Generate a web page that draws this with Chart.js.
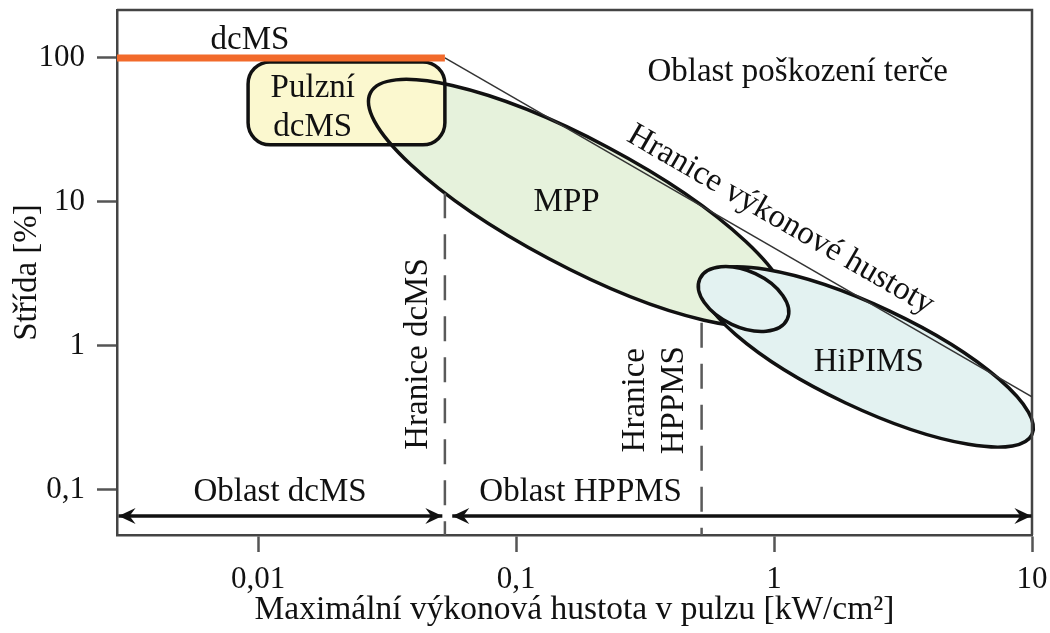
<!DOCTYPE html>
<html>
<head>
<meta charset="utf-8">
<script src="https://cdn.jsdelivr.net/npm/chart.js@4.4.0/dist/chart.umd.min.js"></script>
<style>
  body { margin: 0; background: #fff; }
</style>
</head>
<body>
<canvas id="myChart" width="1050" height="633"></canvas>
<script>
// osy
const xRange = [0.00284, 10];
const yRange = [0.0487, 215];
const xTicks = [0.01, 0.1, 1, 10];
const xTickLabels = ['0,01', '0,1', '1', '10'];
const yTicks = [0.1, 1, 10, 100];
const yTickLabels = ['0,1', '1', '10', '100'];

// hranice a oblasti
const dcmsLine = [[0.00284, 100], [0.053, 100]];
const powerLimit = [[0.053, 100], [10, 0.443]];
const dcmsDash = [[0.053, 11.5], [0.053, 0.0487]];
const hppmsDash = [[0.524, 1.45], [0.524, 0.0487]];
const dcmsArrow = [[0.00288, 0.066], [0.0518, 0.066]];
const hppmsArrow = [[0.0566, 0.066], [9.95, 0.066]];

// plochy: konce hlavní osy elipsy, resp. rohy obdélníku
const mppArea = [[0.0273, 57.4], [1.11, 1.69]];
const hipimsArea = [[0.530, 2.90], [10.0, 0.243]];
const hipimsLoop = [[0.516, 2.93], [1.125, 1.53]];
const pulseBox = [[0.00915, 93.8], [0.053, 24.9]];

// popisky
const notes = [
  { text: ['dcMS'], at: [0.0093, 133] },
  { text: ['Oblast poškození terče'], at: [1.235, 78.8] },
  { text: ['Hranice výkonové hustoty'], at: [1.06, 7.5], along: powerLimit },
  { text: ['MPP'], at: [0.157, 10] },
  { text: ['HiPIMS'], at: [2.33, 0.774] },
  { text: ['Pulzní', 'dcMS'], at: [0.0163, 45.3] },
  { text: ['Hranice dcMS'], at: [0.0418, 0.88], vertical: true },
  { text: ['Hranice', 'HPPMS'], at: [0.344, 0.42], vertical: true },
  { text: ['Oblast dcMS'], at: [0.01217, 0.0968] },
  { text: ['Oblast HPPMS'], at: [0.178, 0.0968] }
];

const serif = "'Liberation Serif', 'Times New Roman', serif";
const ink = '#111';
const pts = arr => arr.map(([x, y]) => ({ x, y }));

function ellipsePath(ctx, sx, sy, ends, ratio) {
  const x1 = sx.getPixelForValue(ends[0][0]), y1 = sy.getPixelForValue(ends[0][1]);
  const x2 = sx.getPixelForValue(ends[1][0]), y2 = sy.getPixelForValue(ends[1][1]);
  const a = Math.hypot(x2 - x1, y2 - y1) / 2;
  ctx.beginPath();
  ctx.ellipse((x1 + x2) / 2, (y1 + y2) / 2, a, a * ratio, Math.atan2(y2 - y1, x2 - x1), 0, Math.PI * 2);
}

function boxPath(ctx, sx, sy, corners, r) {
  const x1 = sx.getPixelForValue(corners[0][0]), y1 = sy.getPixelForValue(corners[0][1]);
  const x2 = sx.getPixelForValue(corners[1][0]), y2 = sy.getPixelForValue(corners[1][1]);
  ctx.beginPath();
  ctx.roundRect(x1, y1, x2 - x1, y2 - y1, r);
}

function arrowHead(ctx, x, y, dir) {
  ctx.save();
  ctx.translate(x, y);
  ctx.scale(dir, 1);
  ctx.beginPath();
  ctx.moveTo(0, 0);
  ctx.lineTo(-17, -8);
  ctx.lineTo(-11, 0);
  ctx.lineTo(-17, 8);
  ctx.closePath();
  ctx.fill();
  ctx.restore();
}

const areas = {
  id: 'areas',
  beforeDatasetsDraw(chart) {
    const { ctx, chartArea: ca, scales: { x, y } } = chart;
    ctx.save();
    ctx.lineWidth = 3.5;
    ctx.strokeStyle = ink;

    ellipsePath(ctx, x, y, mppArea, 0.268);
    ctx.fillStyle = '#e6f2dc';
    ctx.fill();
    boxPath(ctx, x, y, pulseBox, 22);
    ctx.fillStyle = '#fbf8cf';
    ctx.fill();
    ellipsePath(ctx, x, y, mppArea, 0.268);
    ctx.stroke();
    boxPath(ctx, x, y, pulseBox, 22);
    ctx.stroke();

    ellipsePath(ctx, x, y, hipimsArea, 0.28);
    ctx.fillStyle = '#e3f2f1';
    ctx.fill();
    ctx.stroke();
    ellipsePath(ctx, x, y, hipimsLoop, 0.58);
    ctx.fill();
    ctx.stroke();

    // horní a pravý okraj rámu
    ctx.lineWidth = 2.5;
    ctx.strokeStyle = '#444';
    ctx.beginPath();
    ctx.moveTo(ca.left, ca.top);
    ctx.lineTo(ca.right, ca.top);
    ctx.lineTo(ca.right, ca.bottom);
    ctx.stroke();
    ctx.restore();
  },
  afterDatasetsDraw(chart) {
    const { ctx, scales: { x, y } } = chart;
    ctx.save();
    ctx.fillStyle = ink;
    chart.data.datasets.forEach((ds, i) => {
      if (!ds.arrows) return;
      const p = chart.getDatasetMeta(i).data;
      arrowHead(ctx, p[0].x, p[0].y, -1);
      arrowHead(ctx, p[p.length - 1].x, p[p.length - 1].y, 1);
    });

    ctx.font = '33px ' + serif;
    ctx.textAlign = 'center';
    ctx.textBaseline = 'middle';
    const lh = 39;
    notes.forEach(n => {
      ctx.save();
      ctx.translate(x.getPixelForValue(n.at[0]), y.getPixelForValue(n.at[1]));
      if (n.vertical) ctx.rotate(-Math.PI / 2);
      if (n.along) {
        const dx = x.getPixelForValue(n.along[1][0]) - x.getPixelForValue(n.along[0][0]);
        const dy = y.getPixelForValue(n.along[1][1]) - y.getPixelForValue(n.along[0][1]);
        ctx.rotate(Math.atan2(dy, dx));
      }
      n.text.forEach((t, k) => ctx.fillText(t, 0, (k - (n.text.length - 1) / 2) * lh));
      ctx.restore();
    });
    ctx.restore();
  }
};

function fixTicks(values) {
  return scale => { scale.ticks = values.map(v => ({ value: v })); };
}

new Chart(document.getElementById('myChart'), {
  type: 'line',
  data: {
    datasets: [
      { data: pts(dcmsLine), borderColor: '#f26a2b', borderWidth: 7, borderCapStyle: 'butt' },
      { data: pts(powerLimit), borderColor: '#333', borderWidth: 1.5 },
      { data: pts(dcmsDash), borderColor: '#5a5a5a', borderWidth: 2.5, borderDash: [25, 16] },
      { data: pts(hppmsDash), borderColor: '#5a5a5a', borderWidth: 2.5, borderDash: [25, 16] },
      { data: pts(dcmsArrow), borderColor: ink, borderWidth: 3.5, arrows: true },
      { data: pts(hppmsArrow), borderColor: ink, borderWidth: 3.5, arrows: true }
    ]
  },
  options: {
    responsive: false,
    animation: false,
    devicePixelRatio: 1,
    layout: { padding: { top: 10, right: 18, left: 0, bottom: 0 } },
    elements: { point: { radius: 0, hoverRadius: 0 }, line: { tension: 0 } },
    plugins: { legend: { display: false }, tooltip: { enabled: false } },
    scales: {
      x: {
        type: 'logarithmic',
        min: xRange[0],
        max: xRange[1],
        afterBuildTicks: fixTicks(xTicks),
        afterFit: s => { s.height = 98; s.paddingLeft = 0; s.paddingRight = 0; },
        ticks: {
          callback: (v, i) => xTickLabels[i],
          font: { family: serif, size: 31 },
          color: ink,
          padding: 9,
          maxRotation: 0,
          autoSkip: false
        },
        grid: { drawOnChartArea: false, drawTicks: true, tickLength: 17, tickColor: '#555', tickWidth: 2.5 },
        border: { display: true, color: '#444', width: 2.5 },
        title: {
          display: true,
          text: 'Maximální výkonová hustota v pulzu [kW/cm²]',
          font: { family: serif, size: 33.5 },
          color: ink,
          padding: { top: 0, bottom: 3 }
        }
      },
      y: {
        type: 'logarithmic',
        min: yRange[0],
        max: yRange[1],
        afterBuildTicks: fixTicks(yTicks),
        afterFit: s => { s.width = 117; s.paddingTop = 0; s.paddingBottom = 0; },
        ticks: {
          callback: (v, i) => yTickLabels[i],
          font: { family: serif, size: 31 },
          color: ink,
          padding: 12,
          autoSkip: false
        },
        grid: { drawOnChartArea: false, drawTicks: true, tickLength: 20, tickColor: '#555', tickWidth: 2.5 },
        border: { display: true, color: '#444', width: 2.5 },
        title: {
          display: true,
          text: 'Střída [%]',
          font: { family: serif, size: 33 },
          color: ink,
          padding: { top: 8, bottom: 0 }
        }
      }
    }
  },
  plugins: [areas]
});
</script>
</body>
</html>
